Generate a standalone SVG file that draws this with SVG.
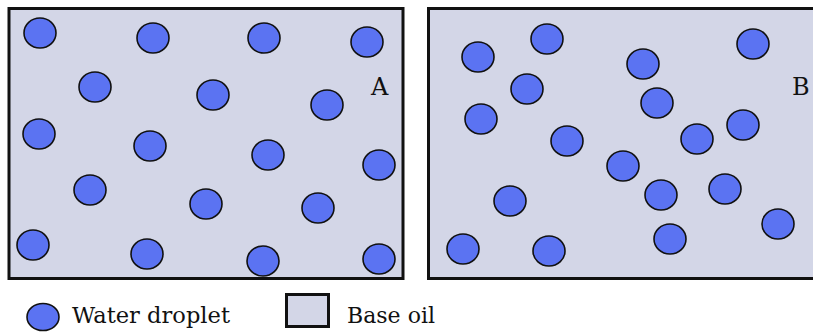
<svg xmlns="http://www.w3.org/2000/svg" width="813" height="332" viewBox="0 0 813 332">
<style>
.panel{fill:#d3d6e7;stroke:#111;stroke-width:3}
.drop{fill:#5b73f2;stroke:#111;stroke-width:1.6}
.lbl{font-family:"DejaVu Serif","Liberation Serif",serif;fill:#111}
</style>
<defs>
<ellipse id="d" class="drop" cx="0" cy="0" rx="16" ry="15"/>
</defs>
<rect width="813" height="332" fill="#fff"/>
<g id="panelA">
<rect class="panel" x="9" y="8.5" width="394" height="270"/>
<use href="#d" x="40" y="33"/><use href="#d" x="153" y="38"/><use href="#d" x="264" y="38"/><use href="#d" x="367" y="42"/>
<use href="#d" x="95" y="87"/><use href="#d" x="213" y="95"/><use href="#d" x="327" y="105"/>
<use href="#d" x="39" y="134"/><use href="#d" x="150" y="146"/><use href="#d" x="268" y="155"/><use href="#d" x="379" y="165"/>
<use href="#d" x="90" y="190"/><use href="#d" x="206" y="204"/><use href="#d" x="318" y="208"/>
<use href="#d" x="33" y="245"/><use href="#d" x="147" y="254"/><use href="#d" x="263" y="261"/><use href="#d" x="379" y="259"/>
<text class="lbl" x="371" y="95" font-size="24">A</text>
</g>
<g id="panelB">
<rect class="panel" x="428.5" y="8.5" width="400" height="270"/>
<use href="#d" x="478" y="57"/><use href="#d" x="547" y="39"/><use href="#d" x="643" y="64"/><use href="#d" x="753" y="44"/>
<use href="#d" x="527" y="89"/><use href="#d" x="657" y="103"/><use href="#d" x="481" y="119"/><use href="#d" x="567" y="141"/>
<use href="#d" x="697" y="139"/><use href="#d" x="743" y="125"/><use href="#d" x="623" y="166"/><use href="#d" x="661" y="195"/>
<use href="#d" x="725" y="189"/><use href="#d" x="510" y="201"/><use href="#d" x="778" y="224"/><use href="#d" x="463" y="249"/>
<use href="#d" x="549" y="251"/><use href="#d" x="670" y="239"/>
<text class="lbl" x="792" y="95" font-size="24">B</text>
</g>
<g id="legend-water">
<ellipse class="drop" cx="43" cy="317" rx="16" ry="13.5"/>
<text class="lbl" x="72" y="323" font-size="22" textLength="158" lengthAdjust="spacingAndGlyphs">Water droplet</text>
</g>
<g id="legend-oil">
<rect class="panel" x="286.5" y="294.5" width="42" height="32" stroke-width="1.6"/>
<text class="lbl" x="347" y="323" font-size="22" textLength="88" lengthAdjust="spacingAndGlyphs">Base oil</text>
</g>
</svg>
